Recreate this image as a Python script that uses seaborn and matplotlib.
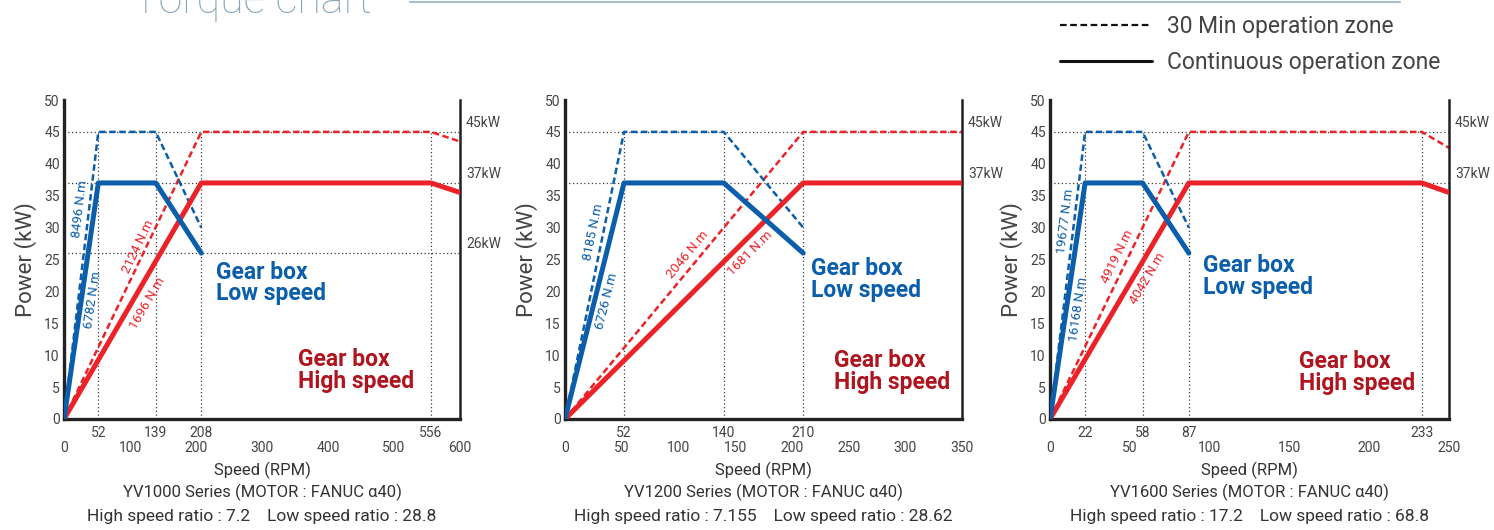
import math
import matplotlib
matplotlib.use("Agg")
import matplotlib.pyplot as plt
import seaborn as sns
from matplotlib.lines import Line2D
from matplotlib.transforms import blended_transform_factory

sns.set_style("white")
plt.rcParams["font.family"] = ["Roboto", "DejaVu Sans"]

BLUE = "#0b5eac"
RED = "#ec2229"
DARK_RED = "#b0151f"
GRID = "#3a3a3a"
TEXT = "#444444"

# YV1000 series
yv1000_low_speed = [0, 52, 139, 208]
yv1000_low_30min = [0, 45, 45, 30]
yv1000_low_cont = [0, 37, 37, 26]
yv1000_high_speed = [0, 208, 556, 600]
yv1000_high_30min = [0, 45, 45, 43.5]
yv1000_high_cont = [0, 37, 37, 35.5]
yv1000_marks = [52, 139, 208, 556]
yv1000_ticks = [0, 100, 200, 300, 400, 500, 600]
yv1000_levels = [45, 37, 26]
yv1000_torque = ["8496 N.m", "6782 N.m", "2124 N.m", "1696 N.m"]
yv1000_ratio = "High speed ratio : 7.2    Low speed ratio : 28.8"

# YV1200 series
yv1200_low_speed = [0, 52, 140, 210]
yv1200_low_30min = [0, 45, 45, 30]
yv1200_low_cont = [0, 37, 37, 26]
yv1200_high_speed = [0, 210, 350]
yv1200_high_30min = [0, 45, 45]
yv1200_high_cont = [0, 37, 37]
yv1200_marks = [52, 140, 210]
yv1200_ticks = [0, 50, 100, 150, 200, 250, 300, 350]
yv1200_levels = [45, 37]
yv1200_torque = ["8185 N.m", "6726 N.m", "2046 N.m", "1681 N.m"]
yv1200_ratio = "High speed ratio : 7.155    Low speed ratio : 28.62"

# YV1600 series
yv1600_low_speed = [0, 22, 58, 87]
yv1600_low_30min = [0, 45, 45, 30]
yv1600_low_cont = [0, 37, 37, 26]
yv1600_high_speed = [0, 87, 233, 250]
yv1600_high_30min = [0, 45, 45, 42.5]
yv1600_high_cont = [0, 37, 37, 35.5]
yv1600_marks = [22, 58, 87, 233]
yv1600_ticks = [0, 50, 100, 150, 200, 250]
yv1600_levels = [45, 37]
yv1600_torque = ["19677 N.m", "16168 N.m", "4919 N.m", "4042 N.m"]
yv1600_ratio = "High speed ratio : 17.2    Low speed ratio : 68.8"

series_names = ["YV1000", "YV1200", "YV1600"]

# label placement (data coords)
torque_pos = [
    [(24, 33), (43, 18.7), (112, 27), (127, 18.2)],
    [(25, 29.3), (37, 18.4), (108, 25.8), (163, 26)],
    [(9.4, 31), (18, 17.2), (42.3, 25.5), (61, 22)],
]
low_text_pos = [(231, 24.8), (217, 25.4), (95.6, 25.8)]
high_text_pos = [(355, 11.1), (237, 10.9), (156, 10.8)]
axes_rects = [
    [64 / 1494, 111 / 530, 396 / 1494, 319 / 530],
    [565 / 1494, 111 / 530, 397 / 1494, 319 / 530],
    [1050 / 1494, 111 / 530, 399 / 1494, 319 / 530],
]

panels = [
    (yv1000_low_speed, yv1000_low_30min, yv1000_low_cont, yv1000_high_speed,
     yv1000_high_30min, yv1000_high_cont, yv1000_marks, yv1000_ticks,
     yv1000_levels, yv1000_torque, yv1000_ratio),
    (yv1200_low_speed, yv1200_low_30min, yv1200_low_cont, yv1200_high_speed,
     yv1200_high_30min, yv1200_high_cont, yv1200_marks, yv1200_ticks,
     yv1200_levels, yv1200_torque, yv1200_ratio),
    (yv1600_low_speed, yv1600_low_30min, yv1600_low_cont, yv1600_high_speed,
     yv1600_high_30min, yv1600_high_cont, yv1600_marks, yv1600_ticks,
     yv1600_levels, yv1600_torque, yv1600_ratio),
]

DASH = (0, (2.6, 1.4))
DOT = (0, (1, 2))

fig = plt.figure(figsize=(14.94, 5.3), dpi=100)

for i, p in enumerate(panels):
    (low_x, low_30, low_c, high_x, high_30, high_c,
     marks, ticks, levels, torque, ratio) = p
    ax = fig.add_axes(axes_rects[i])
    xmax = ticks[-1]

    # reference grid
    for lv in levels:
        ax.axhline(lv, color=GRID, lw=0.9, linestyle=DOT, zorder=1)
    ax.vlines(marks, 0, 45, color=GRID, lw=0.9, linestyles=[DOT], zorder=1)

    sns.lineplot(x=high_x, y=high_30, ax=ax, color=RED, lw=1.8,
                 linestyle=DASH, sort=False, estimator=None, zorder=2)
    sns.lineplot(x=low_x, y=low_30, ax=ax, color=BLUE, lw=1.8,
                 linestyle=DASH, sort=False, estimator=None, zorder=2)
    sns.lineplot(x=high_x, y=high_c, ax=ax, color=RED, lw=3.6,
                 sort=False, estimator=None, zorder=3)
    sns.lineplot(x=low_x, y=low_c, ax=ax, color=BLUE, lw=3.6,
                 sort=False, estimator=None, zorder=3)

    ax.set_xlim(0, xmax)
    ax.set_ylim(0, 50)

    # torque labels follow the first segment of each line
    segs = [(low_x, low_30, BLUE), (low_x, low_c, BLUE),
            (high_x, high_30, RED), (high_x, high_c, RED)]
    for (sx, sy, col), lab, pos in zip(segs, torque, torque_pos[i]):
        ang = math.degrees(math.atan2(sy[1] - sy[0], sx[1] - sx[0]))
        ax.text(pos[0], pos[1], lab, rotation=ang, transform_rotates_text=True,
                rotation_mode="anchor", ha="center", va="center",
                fontsize=9.5, color=col, zorder=4)

    ax.text(*low_text_pos[i], "Gear box\nLow speed", color=BLUE,
            fontsize=16.5, fontweight="bold", va="top", ha="left", linespacing=0.92)
    ax.text(*high_text_pos[i], "Gear box\nHigh speed", color=DARK_RED,
            fontsize=16.5, fontweight="bold", va="top", ha="left", linespacing=0.92)

    # right side kW labels
    tr = blended_transform_factory(ax.transAxes, ax.transData)
    for lv in levels:
        ax.text(1.015, lv + 0.3, f"{lv}kW", transform=tr, fontsize=10,
                color=TEXT, ha="left", va="bottom")

    # axes styling
    ax.set_xticks(ticks)
    ax.set_xticklabels([str(t) for t in ticks])
    ax.set_xticks(marks, minor=True)
    ax.set_xticklabels([str(m) for m in marks], minor=True)
    ax.set_yticks(range(0, 51, 5))
    ax.tick_params(axis="x", which="major", direction="in", length=5, width=1.5,
                   pad=16, labelsize=10, labelcolor=TEXT, color="#222222")
    ax.tick_params(axis="x", which="minor", length=0, pad=5, labelsize=10,
                   labelcolor=TEXT)
    ax.tick_params(axis="y", direction="in", length=5, width=1.2, pad=3,
                   labelsize=10, labelcolor=TEXT, color="#222222")
    ax.spines["top"].set_visible(False)
    ax.spines["left"].set_linewidth(2.4)
    ax.spines["bottom"].set_linewidth(2.4)
    ax.spines["right"].set_linewidth(1.8)
    for s in ["left", "bottom", "right"]:
        ax.spines[s].set_color("#222222")

    ax.set_ylabel("Power (kW)", fontsize=16, color=TEXT)
    ax.yaxis.set_label_coords(-0.068, 0.5)
    ax.set_xlabel("")
    ax.text(0.5, -0.16, "Speed (RPM)", transform=ax.transAxes, ha="center",
            va="center", fontsize=12, color="#333333")
    ax.text(0.5, -0.229, f"{series_names[i]} Series (MOTOR : FANUC α40)",
            transform=ax.transAxes, ha="center", va="center", fontsize=12,
            color="#333333")
    ax.text(0.5, -0.307, ratio, transform=ax.transAxes, ha="center",
            va="center", fontsize=12.5, color="#333333")

# title (cut at the top edge, as in the source) and rule
fig.text(133 / 1494, 1 - 13 / 530, "Torque chart", fontsize=31,
         fontweight="light", color="#86a3b5", va="baseline", ha="left")
fig.add_artist(Line2D([410 / 1494, 1400 / 1494], [1 - 1.5 / 530] * 2,
                      transform=fig.transFigure, color="#a8bccb", lw=1.5))

# legend
handles = [Line2D([], [], color="#111111", lw=1.6, linestyle=(0, (3, 1.6))),
           Line2D([], [], color="#111111", lw=2.2)]
fig.legend(handles, ["30 Min operation zone", "Continuous operation zone"],
           loc="upper left", bbox_to_anchor=(1060 / 1494, 1 - 15 / 530),
           frameon=False, fontsize=16.5, handlelength=4.0, handletextpad=0.65,
           labelspacing=0.55, borderpad=0, borderaxespad=0, labelcolor="#444444")

fig.savefig("out.png", dpi=100)
